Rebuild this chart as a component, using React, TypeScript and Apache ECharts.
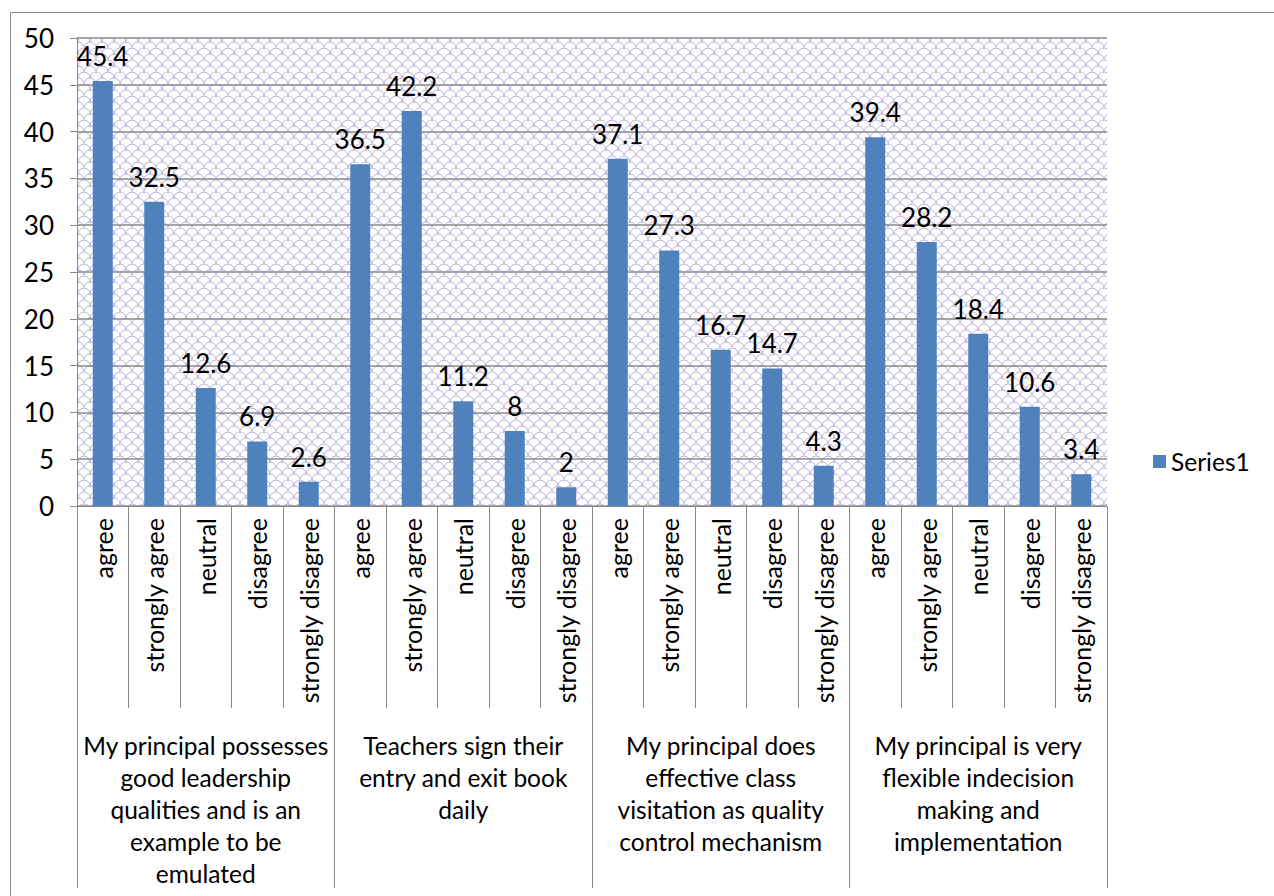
import React, { useEffect, useRef } from "react";
import * as echarts from "echarts";

const responses = ["agree", "strongly agree", "neutral", "disagree", "strongly disagree"];
const groups = [
  "My principal possesses\ngood leadership\nqualities and is an\nexample to be\nemulated",
  "Teachers sign their\nentry and exit book\ndaily",
  "My principal does\neffective class\nvisitation as quality\ncontrol mechanism",
  "My principal is very\nflexible indecision\nmaking and\nimplementation",
];
const group1Values = [45.4, 32.5, 12.6, 6.9, 2.6];
const group2Values = [36.5, 42.2, 11.2, 8, 2];
const group3Values = [37.1, 27.3, 16.7, 14.7, 4.3];
const group4Values = [39.4, 28.2, 18.4, 10.6, 3.4];
const yTicks = [0, 5, 10, 15, 20, 25, 30, 35, 40, 45, 50];
const seriesName = "Series1";

const FONT = "Lato, 'Open Sans', sans-serif";
const BLUE = "#4F81BD";
const GRIDC = "#8a8a8a";

function makePattern() {
  const c = document.createElement("canvas");
  c.width = 12;
  c.height = 12;
  const ctx = c.getContext("2d")!;
  ctx.fillStyle = "#ffffff";
  ctx.fillRect(0, 0, 12, 12);
  ctx.strokeStyle = "#b8addb";
  ctx.lineWidth = 1;
  ctx.beginPath();
  ctx.arc(6, 12, 6, Math.PI, 2 * Math.PI);
  ctx.stroke();
  ctx.beginPath();
  ctx.arc(0, 6, 6, Math.PI * 1.5, Math.PI * 2);
  ctx.stroke();
  ctx.beginPath();
  ctx.arc(12, 6, 6, Math.PI, Math.PI * 1.5);
  ctx.stroke();
  return c;
}

export default function App() {
  const ref = useRef<HTMLDivElement>(null);
  useEffect(() => {
    if (!ref.current) return;
    const chart = echarts.init(ref.current, null, { renderer: "svg" });
    const categories: string[] = [];
    groups.forEach(() => responses.forEach((r) => categories.push(r)));
    const values = [...group1Values, ...group2Values, ...group3Values, ...group4Values];
    const pattern: any = { image: makePattern(), repeat: "repeat", imageWidth: 12, imageHeight: 12 };
    chart.setOption({
      animation: false,
      backgroundColor: "#ffffff",
      textStyle: { fontFamily: FONT },
      grid: {
        left: 77,
        right: 167,
        top: 38,
        bottom: 390,
        show: true,
        backgroundColor: pattern,
        borderWidth: 0,
        containLabel: false,
      },
      legend: {
        data: [seriesName],
        left: 1148,
        top: 444,
        orient: "vertical",
        itemWidth: 13,
        itemHeight: 13,
        itemGap: 8,
        icon: "rect",
        textStyle: { fontSize: 24.5, color: "#000", fontFamily: FONT },
      },
      xAxis: [
        {
          type: "category",
          data: categories,
          position: "bottom",
          axisLine: { show: true, lineStyle: { color: GRIDC, width: 1 } },
          axisTick: { show: true, length: 202, interval: 0, lineStyle: { color: GRIDC } },
          axisLabel: {
            interval: 0,
            rotate: 90,
            margin: 12,
            fontSize: 25,
            color: "#000",
            fontFamily: FONT,
          },
        },
        {
          type: "category",
          data: groups,
          position: "bottom",
          axisLine: { show: false },
          axisTick: { show: true, length: 382, interval: 0, lineStyle: { color: GRIDC } },
          axisLabel: {
            interval: 0,
            margin: 223,
            fontSize: 24.5,
            lineHeight: 32,
            color: "#000",
            fontFamily: FONT,
            align: "center",
          },
        },
      ],
      yAxis: {
        type: "value",
        min: yTicks[0],
        max: yTicks[yTicks.length - 1],
        interval: 5,
        axisLine: { show: true, lineStyle: { color: GRIDC } },
        axisTick: { show: true, length: 7, lineStyle: { color: GRIDC } },
        splitLine: { show: true, lineStyle: { color: GRIDC, width: 1.5 } },
        axisLabel: { fontSize: 26, color: "#000", margin: 23, fontFamily: FONT },
      },
      series: [
        {
          name: seriesName,
          type: "bar",
          data: values,
          barWidth: 20,
          itemStyle: { color: BLUE },
          label: {
            show: true,
            position: "top",
            distance: 12,
            fontSize: 26,
            color: "#000",
            fontFamily: FONT,
          },
        },
      ],
      graphic: [
        {
          type: "rect",
          left: 8,
          top: 10,
          shape: { width: 1400, height: 1000 },
          style: { fill: "none", stroke: "#8a8a8a", lineWidth: 1 },
          silent: true,
          z: -1,
        },
      ],
    });
    return () => chart.dispose();
  }, []);
  return (
    <div
      ref={ref}
      style={{ position: "fixed", left: 0, top: 0, width: 1274, height: 896 }}
    />
  );
}
